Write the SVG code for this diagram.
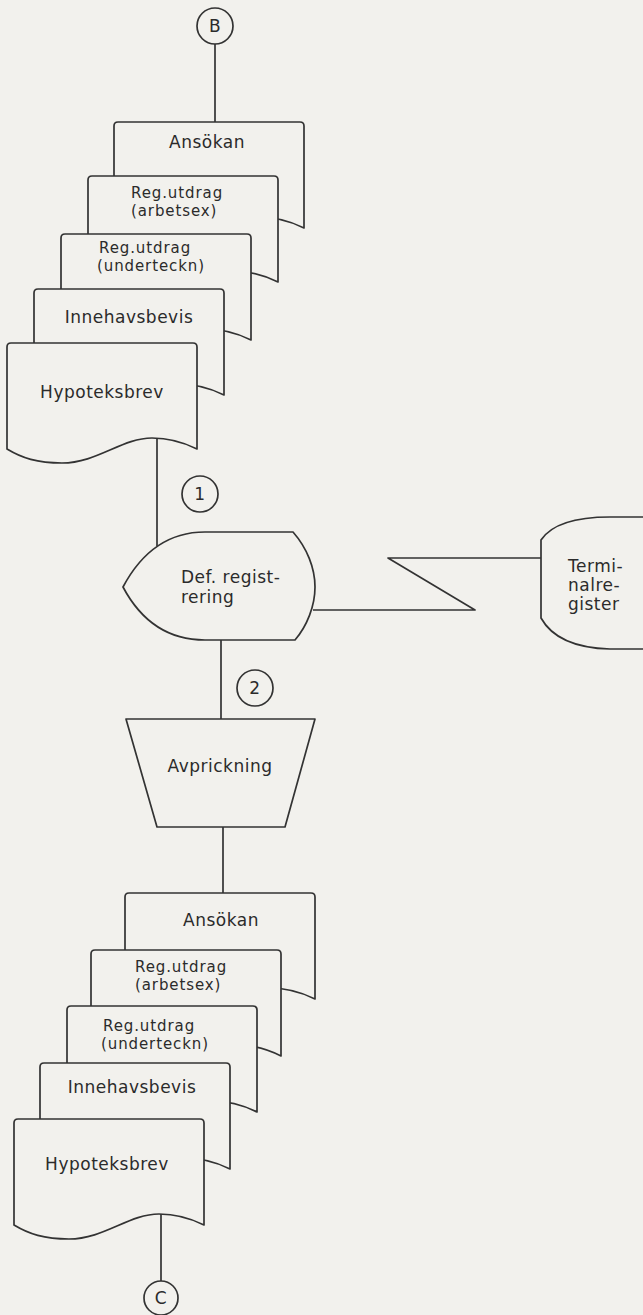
<svg xmlns="http://www.w3.org/2000/svg" xmlns:xlink="http://www.w3.org/1999/xlink" width="643" height="1315" viewBox="0 0 643 1315">
<style>
.bg{fill:#f2f1ed}
.sh{fill:#f2f1ed;stroke:#333;stroke-width:1.7;stroke-linejoin:round}
.ln{fill:none;stroke:#333;stroke-width:1.7;stroke-linejoin:round}
.t{font-family:"DejaVu Sans","Liberation Sans",sans-serif;font-size:17px;fill:#2b2b2b;letter-spacing:0.5px}
.s{font-size:15px;letter-spacing:0.9px}
.c{text-anchor:middle}
</style>
<defs>
<path id="doc" class="sh" d="M0,106 V4 Q0,0 4,0 H186 Q190,0 190,4 V106 C178,100 165,95 145,95 C115,95 90,120 55,120 C30,120 15,115 0,106 Z"/>
</defs>
<rect class="bg" x="0" y="0" width="643" height="1315"/>

<g id="connectors">
<line class="ln" x1="215" y1="44" x2="215" y2="122"/>
<line class="ln" x1="157" y1="438" x2="157" y2="546"/>
<line class="ln" x1="221" y1="640" x2="221" y2="719"/>
<polyline class="ln" points="313,610 475,610 388,558 541,558"/>
<line class="ln" x1="223" y1="827" x2="223" y2="893"/>
<line class="ln" x1="161" y1="1214" x2="161" y2="1281"/>
</g>

<g id="B"><circle class="sh" cx="215" cy="26" r="18"/><text class="t c" x="215" y="32">B</text></g>

<g id="top-ansokan"><use xlink:href="#doc" x="114" y="122"/><text class="t c" x="207" y="148">Ansökan</text></g>
<g id="top-arbetsex"><use xlink:href="#doc" x="88" y="176"/><text class="t s" x="131" y="198">Reg.utdrag</text><text class="t s" x="131" y="216">(arbetsex)</text></g>
<g id="top-underteckn"><use xlink:href="#doc" x="61" y="234"/><text class="t s" x="99" y="253">Reg.utdrag</text><text class="t s" x="97" y="271">(underteckn)</text></g>
<g id="top-innehavsbevis"><use xlink:href="#doc" x="34" y="289"/><text class="t c" x="129" y="323">Innehavsbevis</text></g>
<g id="top-hypoteksbrev"><use xlink:href="#doc" x="7" y="343"/><text class="t c" x="102" y="398">Hypoteksbrev</text></g>

<g id="n1"><circle class="sh" cx="200" cy="494" r="18"/><text class="t c" x="200" y="500">1</text></g>

<g id="def-registrering">
<path class="sh" d="M123,587 C140,555 165,532 205,532 H293 C307,548 315,568 315,587 C315,606 307,626 295,640 H205 C165,640 140,619 123,587 Z"/>
<text class="t" x="181" y="583">Def. regist-</text>
<text class="t" x="181" y="603">rering</text>
</g>

<g id="terminalregister">
<path class="sh" d="M660,517 H610 C572,517 551,525 541,540 V618 C551,636 572,648 610,649 H660"/>
<text class="t" x="568" y="572">Termi-</text>
<text class="t" x="568" y="591">nalre-</text>
<text class="t" x="568" y="610">gister</text>
</g>

<g id="n2"><circle class="sh" cx="255" cy="688" r="18"/><text class="t c" x="255" y="694">2</text></g>

<g id="avprickning">
<path class="sh" d="M126,719 H315 L285,827 H157 Z"/>
<text class="t c" x="220" y="772">Avprickning</text>
</g>

<g id="bot-ansokan"><use xlink:href="#doc" x="125" y="893"/><text class="t c" x="221" y="926">Ansökan</text></g>
<g id="bot-arbetsex"><use xlink:href="#doc" x="91" y="950"/><text class="t s" x="135" y="972">Reg.utdrag</text><text class="t s" x="135" y="990">(arbetsex)</text></g>
<g id="bot-underteckn"><use xlink:href="#doc" x="67" y="1006"/><text class="t s" x="103" y="1031">Reg.utdrag</text><text class="t s" x="101" y="1049">(underteckn)</text></g>
<g id="bot-innehavsbevis"><use xlink:href="#doc" x="40" y="1063"/><text class="t c" x="132" y="1093">Innehavsbevis</text></g>
<g id="bot-hypoteksbrev"><use xlink:href="#doc" x="14" y="1119"/><text class="t c" x="107" y="1170">Hypoteksbrev</text></g>

<g id="C"><circle class="sh" cx="161" cy="1298" r="17"/><text class="t c" x="161" y="1304">C</text></g>
</svg>
